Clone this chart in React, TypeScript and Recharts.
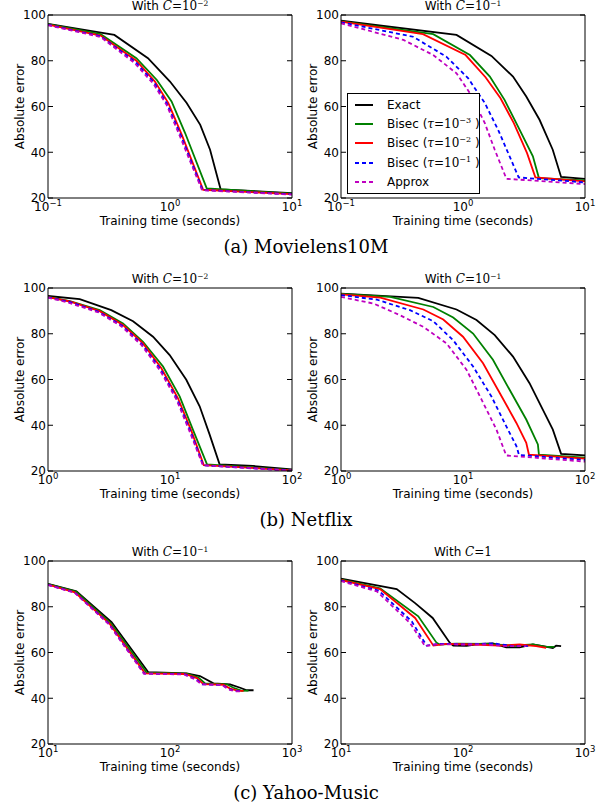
import React from 'react';
import { LineChart, Line, XAxis, YAxis, Legend, Label } from 'recharts';

const SANS = 'DejaVu Sans';
const SERIF = 'DejaVu Serif';

// [training time (s), absolute error]
const ml1Exact = [[0.1, 96.1], [0.35, 91.3], [0.66, 81.1], [1.0, 70.9], [1.37, 61.5], [1.77, 52], [2.13, 41.1], [2.6, 23.8], [10, 22.1]];
const ml1Bisec3 = [[0.1, 96], [0.27, 91.6], [0.53, 81.1], [0.78, 71.6], [1.03, 62.2], [1.33, 48.4], [2.0, 24.2], [10, 21.9]];
const ml1Bisec2 = [[0.1, 95.8], [0.27, 91], [0.53, 80], [0.75, 71], [0.97, 61.5], [1.25, 47.6], [1.87, 23.6], [10, 21.7]];
const ml1Bisec1 = [[0.1, 95.7], [0.27, 90.7], [0.52, 79.5], [0.74, 70.5], [0.95, 61], [1.23, 47.2], [1.85, 23.5], [10, 21.6]];
const ml1Approx = [[0.1, 95.5], [0.27, 90.4], [0.51, 79.1], [0.73, 70], [0.94, 60.6], [1.21, 46.8], [1.83, 23.4], [10, 21.5]];

const ml2Exact = [[0.1, 97.5], [0.885, 91.3], [1.71, 82.1], [2.57, 73.1], [3.3, 64.4], [4.24, 54.2], [5.44, 41.1], [6.37, 29.2], [10, 28.4]];
const ml2Bisec3 = [[0.1, 97.2], [0.57, 91.6], [1.14, 82.5], [1.66, 73.1], [2.19, 62.9], [2.82, 51.3], [3.74, 38.2], [4.19, 28.7], [10, 27.7]];
const ml2Bisec2 = [[0.1, 97.1], [0.47, 91.6], [1.05, 82.5], [1.53, 72.8], [2.03, 63.6], [2.61, 52.7], [3.35, 39.6], [3.92, 29.0], [10, 27.3]];
const ml2Bisec1 = [[0.1, 96.8], [0.39, 90.5], [0.73, 81.8], [1.1, 72.4], [1.51, 61.5], [1.94, 49.8], [2.41, 38.2], [2.86, 29.0], [10, 26.8]];
const ml2Approx = [[0.1, 96.4], [0.325, 89.1], [0.57, 82.5], [0.885, 74.5], [1.14, 65.8], [1.51, 52.7], [1.82, 41.1], [2.27, 28.4], [10, 26.1]];

const nf1Exact = [[1, 96.5], [1.82, 95.1], [3.3, 90.3], [4.98, 85.5], [7.26, 78.7], [9.94, 70.7], [13.6, 59.9], [17.5, 48.3], [21.1, 36], [25.5, 22.9], [47.9, 22.2], [100, 20.7]];
const nf1Bisec3 = [[1, 96.1], [1.51, 94.3], [2.65, 90.3], [4.12, 84.5], [6.01, 76.5], [8.77, 65.7], [12, 52.6], [15.4, 38.1], [20.1, 22.9], [100, 20.4]];
const nf1Bisec2 = [[1, 96], [1.51, 94.1], [2.65, 89.9], [4.12, 83.8], [6.01, 75.8], [8.5, 64.9], [11.6, 51.9], [15, 37.4], [18.9, 22.6], [100, 20.3]];
const nf1Bisec1 = [[1, 95.9], [1.5, 93.9], [2.6, 89.6], [4.05, 83.5], [5.9, 75.4], [8.35, 64.5], [11.4, 51.5], [14.8, 37], [18.7, 22.5], [100, 20.2]];
const nf1Approx = [[1, 95.8], [1.47, 93.6], [2.6, 89.3], [4.0, 83.2], [5.85, 75.0], [8.25, 64.1], [11.3, 51.2], [14.6, 36.8], [18.6, 22.5], [100, 20.1]];

const nf2Exact = [[1, 97.5], [4.3, 95.7], [8.85, 90.6], [12.9, 86], [18.2, 79.4], [25.7, 70], [35.1, 58.4], [45.1, 46.8], [54.5, 38.1], [63.7, 27.5], [100, 26.8]];
const nf2Bisec3 = [[1, 97.4], [2.53, 96.1], [5.71, 91.7], [8.31, 87.1], [12.1, 80.1], [17.6, 68.6], [24.1, 55.5], [33, 42.5], [41.1, 31.6], [41.9, 27.2], [100, 25.8]];
const nf2Bisec2 = [[1, 97.2], [2.1, 95.8], [4.73, 90.6], [6.89, 86.2], [10, 78.7], [14.6, 67.1], [20, 54.1], [27.4, 41], [33, 32.3], [34.7, 27.2], [100, 25.4]];
const nf2Bisec1 = [[1, 96.9], [1.97, 94.9], [3.68, 90.3], [5.7, 85.5], [8.3, 77.2], [12.1, 65.7], [17.1, 52.6], [22.6, 39.6], [27.4, 30.9], [28.8, 27.0], [100, 24.8]];
const nf2Approx = [[1, 96.1], [1.85, 93.2], [3.05, 88.1], [4.73, 83], [7.33, 75.8], [10.7, 64.2], [14.2, 51.2], [18.8, 38.1], [22.6, 26.8], [100, 24.1]];

const ym1Exact = [[10, 90], [17.1, 86.7], [33.2, 73.3], [66.4, 51.4], [137, 50.9], [176, 49.7], [227, 46.5], [311, 46.1], [376, 44.6], [426, 43.5], [484, 43.5]];
const ym1Bisec3 = [[10, 89.9], [16.9, 86.6], [32.6, 72.9], [64.3, 51.2], [137, 50.8], [171, 49], [194, 46.5], [292, 46.1], [331, 44.6], [388, 43.2], [440, 43.3]];
const ym1Bisec2 = [[10, 89.7], [16.6, 86.3], [32, 72.6], [62.3, 50.9], [133, 50.6], [166, 48.8], [188, 46.2], [274, 45.9], [311, 44.2], [364, 43.2], [401, 43.2]];
const ym1Bisec1 = [[10, 89.6], [16.6, 86.2], [31.8, 72.4], [61.5, 50.8], [131, 50.5], [162, 48.5], [184, 46.1], [268, 45.8], [304, 44], [350, 43.1], [385, 43.1]];
const ym1Approx = [[10, 89.5], [16.6, 86.1], [31.6, 72.3], [61, 50.8], [130, 50.4], [160, 48.3], [182, 46.1], [266, 45.8], [301, 43.9], [342, 43.0], [376, 43.0]];

const ym2Exact = [[10, 92.3], [28.6, 87.7], [40.5, 81.6], [56.4, 75.1], [78.1, 64.2], [83.2, 63.0], [107, 62.9], [137, 63.8], [176, 64], [226, 62.3], [291, 62.2], [374, 63.5], [451, 62.8], [545, 62], [580, 63], [637, 62.8]];
const ym2Bisec3 = [[10, 92], [20.9, 88.1], [43, 75.8], [60.8, 64.2], [64.6, 63.5], [88.3, 63.9], [155, 63.8], [257, 63], [374, 63.5], [480, 62.5], [562, 62.5]];
const ym2Bisec2 = [[10, 91.7], [20.9, 87.7], [40.5, 75.1], [57.2, 63], [73.3, 63.8], [121, 63.5], [200, 63], [291, 63.5], [398, 62.8], [480, 62]];
const ym2Bisec1 = [[10, 91.4], [20.3, 87.1], [38, 73.6], [50.3, 63], [64.6, 63.8], [107, 63.5], [176, 64], [257, 62.8], [351, 62.8]];
const ym2Approx = [[10, 91.2], [19.7, 86.7], [36.8, 72.9], [48.8, 62.8], [60.8, 63.6], [94.2, 63.5], [155, 63.5], [226, 62.8], [331, 62.8]];

const yTicks = [20, 40, 60, 80, 100];
const decades01 = [0.1, 1, 10];
const minors01 = [0.2, 0.3, 0.4, 0.5, 0.6, 0.7, 0.8, 0.9, 2, 3, 4, 5, 6, 7, 8, 9];
const decades1 = [1, 10, 100];
const minors1 = [2, 3, 4, 5, 6, 7, 8, 9, 20, 30, 40, 50, 60, 70, 80, 90];
const decades10 = [10, 100, 1000];
const minors10 = [20, 30, 40, 50, 60, 70, 80, 90, 200, 300, 400, 500, 600, 700, 800, 900];

const seriesStyle = [
  { name: 'Exact', color: '#000000', dash: undefined, tau: null },
  { name: 'Bisec', color: '#008000', dash: undefined, tau: '−3' },
  { name: 'Bisec', color: '#ff0000', dash: undefined, tau: '−2' },
  { name: 'Bisec', color: '#0000ff', dash: '4 3', tau: '−1' },
  { name: 'Approx', color: '#bf00bf', dash: '4 3', tau: null },
];

const toRows = (pts: number[][]) => pts.map(([t, e]) => ({ t, e }));

const PowTick = (props: any) => {
  const { x, y, payload } = props;
  const exp = Math.round(Math.log10(payload.value));
  return (
    <text x={x} y={y + 13} textAnchor="middle" fontFamily={SANS} fontSize={12} fill="#000">
      10<tspan dy={-5} fontSize={8.5}>{exp < 0 ? '−' + -exp : String(exp)}</tspan>
    </text>
  );
};

const NoLabel = () => <g />;

const LegendBox = () => (
  <div style={{ border: '1px solid #000', background: '#fff', width: 131, padding: '1px 0 2px 0', fontFamily: SANS, fontSize: 12, color: '#000', whiteSpace: 'nowrap', boxSizing: 'content-box' }}>
    {seriesStyle.map((s, i) => (
      <div key={i} style={{ height: 19.3, display: 'flex', alignItems: 'center' }}>
        <svg width={18} height={4} style={{ marginLeft: 7, marginRight: 14, flex: 'none' }}>
          <line x1={0} y1={2} x2={18} y2={2} stroke={s.color} strokeWidth={2} strokeDasharray={s.dash} />
        </svg>
        <span>
          {s.name}
          {s.tau && (
            <span>
              {' ('}
              <span style={{ fontFamily: SERIF, fontStyle: 'italic' }}>τ</span>
              <span style={{ fontFamily: SERIF }}>=10</span>
              <span style={{ fontSize: 8, fontFamily: SERIF, position: 'relative', top: -5 }}>{s.tau}</span>
              {' )'}
            </span>
          )}
        </span>
      </div>
    ))}
  </div>
);

type PanelProps = {
  left: number;
  top: number;
  series: number[][][];
  domain: [number, number];
  majors: number[];
  minors: number[];
  exp: string | null;
  legend?: boolean;
};

const PLOT_W = 244;

const Panel = ({ left, top, series, domain, majors, minors, exp, legend }: PanelProps) => {
  const xCommon = { type: 'number' as const, scale: 'log' as const, domain, allowDataOverflow: true, interval: 0 as const, stroke: '#000' };
  return (
    <div style={{ position: 'absolute', left, top, width: 304, height: 230 }}>
      <div style={{ position: 'absolute', left: 48, top: 0, width: PLOT_W, textAlign: 'center', fontFamily: SANS, fontSize: 12, lineHeight: '12px', color: '#000', whiteSpace: 'nowrap' }}>
        With <span style={{ fontFamily: SERIF, fontStyle: 'italic', fontSize: 12 }}>C</span>
        <span style={{ fontFamily: SERIF, fontSize: 12 }}>=</span>
        <span style={{ fontFamily: SERIF, fontSize: 12 }}>{exp === null ? '1' : '10'}</span>
        {exp !== null && <span style={{ fontFamily: SERIF, fontSize: 7.5, position: 'relative', top: -4 }}>{exp}</span>}
      </div>
      <LineChart width={304} height={230} margin={{ top: 15, right: 12, bottom: 0, left: 0 }}>
        <XAxis xAxisId="b" dataKey="t" {...xCommon} ticks={majors} orientation="bottom" height={32} tickLine={false} tickSize={0} tickMargin={0} tick={<PowTick />}>
          <Label value="Training time (seconds)" position="insideBottom" offset={5} fill="#000" fontFamily={SANS} fontSize={12} />
        </XAxis>
        <XAxis xAxisId="bM" {...xCommon} ticks={majors} orientation="bottom" mirror axisLine={false} tickSize={5} tick={<NoLabel />} />
        <XAxis xAxisId="bm" {...xCommon} ticks={minors} orientation="bottom" mirror axisLine={false} tickSize={2.5} tick={<NoLabel />} />
        <XAxis xAxisId="tM" {...xCommon} ticks={majors} orientation="top" mirror tickSize={5} tick={<NoLabel />} />
        <XAxis xAxisId="tm" {...xCommon} ticks={minors} orientation="top" mirror axisLine={false} tickSize={2.5} tick={<NoLabel />} />
        <YAxis yAxisId="l" type="number" domain={[20, 100]} ticks={yTicks} width={48} stroke="#000" tickLine={false} tickSize={0} tickMargin={2} interval={0} allowDataOverflow tick={{ fill: '#000', fontSize: 12, fontFamily: SANS }}>
          <Label value="Absolute error" angle={-90} position="insideLeft" offset={20} fill="#000" fontFamily={SANS} fontSize={12} style={{ textAnchor: 'middle' }} />
        </YAxis>
        <YAxis yAxisId="lt" type="number" domain={[20, 100]} ticks={yTicks} orientation="left" mirror axisLine={false} stroke="#000" tickSize={5} interval={0} allowDataOverflow tick={<NoLabel />} />
        <YAxis yAxisId="r" type="number" domain={[20, 100]} ticks={yTicks} orientation="right" mirror stroke="#000" tickSize={5} interval={0} allowDataOverflow tick={<NoLabel />} />
        {series.map((pts, i) => (
          <Line
            key={i}
            xAxisId="b"
            yAxisId="l"
            data={toRows(pts)}
            dataKey="e"
            type="linear"
            stroke={seriesStyle[i].color}
            strokeWidth={1.8}
            strokeDasharray={seriesStyle[i].dash}
            dot={false}
            isAnimationActive={false}
          />
        ))}
        {legend && (
          <Legend layout="vertical" align="center" verticalAlign="middle" content={<LegendBox />} wrapperStyle={{ position: 'absolute', left: 54, top: 93, width: 133, height: 100 }} />
        )}
      </LineChart>
    </div>
  );
};

const captionStyle: React.CSSProperties = {
  position: 'absolute',
  left: 0,
  width: 612,
  textAlign: 'center',
  fontFamily: SERIF,
  fontSize: 18,
  lineHeight: '20px',
  color: '#000',
};

export default function App() {
  return (
    <div style={{ position: 'absolute', left: 0, top: 0, width: 608, height: 807, background: '#fff', overflow: 'hidden' }}>
      <Panel left={0} top={0} series={[ml1Exact, ml1Bisec3, ml1Bisec2, ml1Bisec1, ml1Approx]} domain={[0.1, 10]} majors={decades01} minors={minors01} exp="−2" />
      <Panel left={293} top={0} series={[ml2Exact, ml2Bisec3, ml2Bisec2, ml2Bisec1, ml2Approx]} domain={[0.1, 10]} majors={decades01} minors={minors01} exp="−1" legend />
      <div style={{ ...captionStyle, top: 237 }}>(a) Movielens10M</div>

      <Panel left={0} top={273} series={[nf1Exact, nf1Bisec3, nf1Bisec2, nf1Bisec1, nf1Approx]} domain={[1, 100]} majors={decades1} minors={minors1} exp="−2" />
      <Panel left={293} top={273} series={[nf2Exact, nf2Bisec3, nf2Bisec2, nf2Bisec1, nf2Approx]} domain={[1, 100]} majors={decades1} minors={minors1} exp="−1" />
      <div style={{ ...captionStyle, top: 510 }}>(b) Netflix</div>

      <Panel left={0} top={546} series={[ym1Exact, ym1Bisec3, ym1Bisec2, ym1Bisec1, ym1Approx]} domain={[10, 1000]} majors={decades10} minors={minors10} exp="−1" />
      <Panel left={293} top={546} series={[ym2Exact, ym2Bisec3, ym2Bisec2, ym2Bisec1, ym2Approx]} domain={[10, 1000]} majors={decades10} minors={minors10} exp={null} />
      <div style={{ ...captionStyle, top: 783 }}>(c) Yahoo-Music</div>
    </div>
  );
}
